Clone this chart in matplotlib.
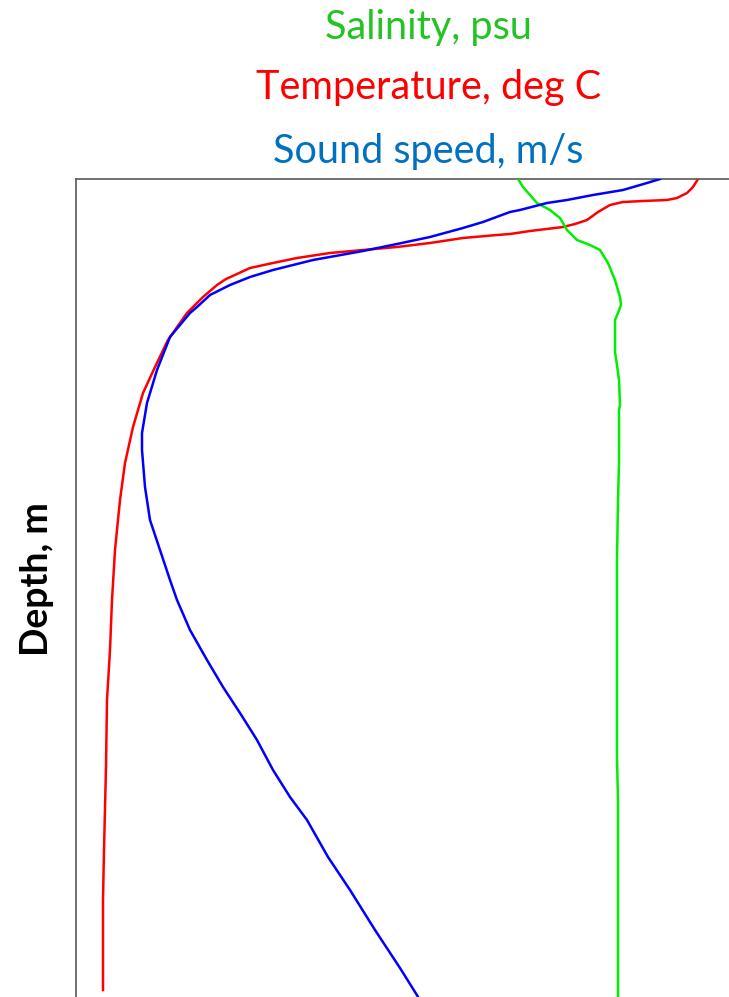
import matplotlib.pyplot as plt

# Temperature profile (deg C vs depth in m)
temp_c = [26.88, 26.68, 26.44, 26.04, 25.64, 24.68, 23.88, 23.36, 22.88, 22.44,
          21.96, 21.48, 20.16, 19.36, 18.84, 17.48, 16.16, 14.84, 13.48, 12.16,
          10.84, 9.88, 8.96, 8.44, 8.00, 7.64, 7.08, 6.44, 5.68, 5.16, 4.68,
          4.28, 3.96, 3.76, 3.56, 3.44, 3.36, 3.24, 3.20, 3.12, 3.08, 3.08]
temp_depth = [0, 4, 7, 9.5, 10.5, 11, 11.5, 13, 16.5, 20.5,
              22.5, 24, 26, 27.5, 28, 29.5, 32, 34, 35.5, 37,
              39.5, 42, 44.5, 47.5, 50, 53, 59, 67, 80.5, 94, 107,
              124, 142, 160.5, 185.5, 210.5, 235.5, 260.5, 294, 335.5, 360.5, 405.5]

# Sound speed profile (m/s vs depth in m)
sound_speed = [1538.4, 1537.1, 1534.7, 1531.7, 1529.1, 1527.1, 1524.4, 1523.4, 1520.7, 1518.7,
               1515.4, 1512.1, 1508.7, 1503.7, 1499.7, 1497.4, 1495.4, 1493.4, 1492.1, 1491.4,
               1489.4, 1488.1, 1487.1, 1486.6, 1486.6, 1486.9, 1487.4, 1488.4, 1489.4, 1490.1,
               1491.4, 1493.1, 1494.7, 1496.4, 1498.1, 1499.7, 1501.4, 1503.1, 1505.2, 1507.4,
               1509.9, 1512.4, 1514.4]
sound_depth = [0, 2, 5.5, 8, 10.5, 12, 15.5, 16.5, 21.5, 24.5,
               29, 32.5, 36, 40.5, 45.5, 49, 53, 58, 64, 67,
               79, 95.5, 112, 127, 135.5, 154, 170.5, 185.5, 200.5, 210.5,
               225.5, 240.5, 254, 267, 280.5, 295.5, 309, 320.5, 339, 355.5,
               375.5, 394.5, 410.5]

# Salinity profile (psu vs depth in m)
salinity = [34.42, 34.47, 34.61, 34.74, 34.84, 34.91, 35.01, 35.14, 35.24, 35.32,
            35.39, 35.44, 35.45, 35.42, 35.39, 35.39, 35.41, 35.43, 35.44, 35.43,
            35.43, 35.42, 35.41, 35.41, 35.42, 35.42]
sal_depth = [0, 4, 12, 15.5, 19.5, 25.5, 30.5, 33, 35.5, 42,
             50.5, 59, 63, 67, 70.5, 86.5, 93, 100.5, 113, 115.5,
             142, 160.5, 190.5, 289.5, 310.5, 410.5]

fig = plt.figure(figsize=(7.29, 9.97), dpi=100)
ax = fig.add_axes([76 / 729, 0.0, 653 / 729, 1 - 179 / 997])
ax_sal = ax.twiny()
ax_snd = ax.twiny()

ax_sal.plot(salinity, sal_depth, color="#00ee00", lw=1.8)
ax.plot(temp_c, temp_depth, color="#ff0000", lw=1.8)
ax_snd.plot(sound_speed, sound_depth, color="#0000ff", lw=1.8)

ax.set_ylim(409, 0)
ax.set_xlim(2, 2 + 653 / 25)
ax_sal.set_xlim(30, 30 + 653 / 100)
ax_snd.set_xlim(1480, 1480 + 653 / 10)

for a in (ax, ax_sal, ax_snd):
    a.set_xticks([])
    a.set_yticks([])
    for s in a.spines.values():
        s.set_visible(False)
for side in ("top", "left"):
    ax.spines[side].set_visible(True)
    ax.spines[side].set_color("#595959")
    ax.spines[side].set_linewidth(1.2)

font = "Lato"
fig.text(428 / 729, 1 - 27 / 997, "Salinity, psu", color="#22c322",
         fontsize=28.5, family=font, ha="center", va="center")
fig.text(429 / 729, 1 - 87 / 997, "Temperature, deg C", color="#ff0000",
         fontsize=28.5, family=font, ha="center", va="center")
fig.text(428 / 729, 1 - 152 / 997, "Sound speed, m/s", color="#0070c0",
         fontsize=28.5, family=font, ha="center", va="center")
fig.text(37 / 729, 1 - 579 / 997, "Depth, m", color="black", fontsize=27,
         fontweight="bold", family=font, rotation=90, ha="center", va="center")

fig.savefig("out.png", dpi=100)
